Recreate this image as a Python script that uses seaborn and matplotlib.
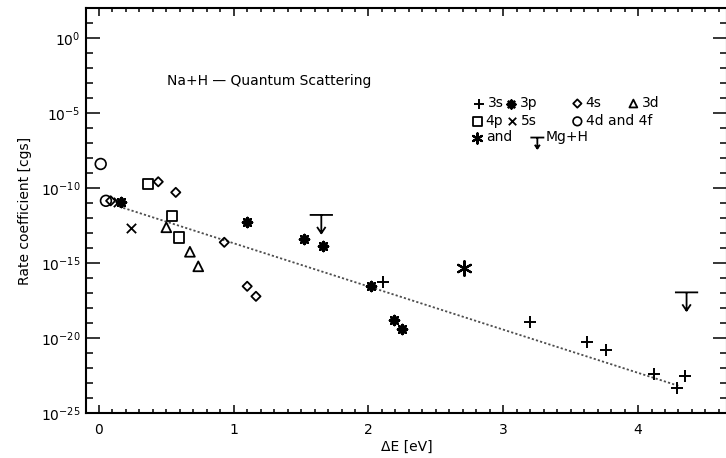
import numpy as np
import pandas as pd
import matplotlib
matplotlib.use("Agg")
import matplotlib.pyplot as plt
from matplotlib.path import Path
from matplotlib.ticker import FixedLocator, MultipleLocator, NullFormatter
import seaborn as sns

# ---------------- data ----------------
s3_x = [2.11, 3.20, 3.62, 3.76, 4.12, 4.29, 4.35]
s3_y = [5.1e-17, 1.2e-19, 5.6e-21, 1.7e-21, 3.8e-23, 4.5e-24, 3.1e-23]

p3_x = [0.16, 1.095, 1.52, 1.66, 2.02, 2.19, 2.25]
p3_y = [1.1e-11, 5.6e-13, 4.0e-14, 1.4e-14, 3.1e-17, 1.7e-19, 4.0e-20]

s4_x = [0.087, 0.44, 0.57, 0.93, 1.10, 1.165]
s4_y = [1.4e-11, 2.6e-10, 5.1e-11, 2.4e-14, 2.8e-17, 6.0e-18]

d3_x = [0.50, 0.675, 0.737]
d3_y = [2.4e-13, 5.6e-15, 6.0e-16]

p4_x = [0.366, 0.54, 0.596]
p4_y = [1.9e-10, 1.4e-12, 5.1e-14]

s5_x = [0.14, 0.235]
s5_y = [1.2e-11, 2.0e-13]

df4_x = [0.013, 0.052]
df4_y = [4.0e-9, 1.4e-11]

mgh_x = [2.71]
mgh_y = [4.7e-16]

mgh_lim_x = [1.65, 4.36]
mgh_lim_y = [1.6e-12, 1.1e-17]

fit_x = [0.15, 4.30]
fit_y = [5.8e-12, 6.5e-24]

title_text = "Na+H \u2014 Quantum Scattering"
xlabel = "\u0394E [eV]"
ylabel = "Rate coefficient [cgs]"
ytick_vals = [1e0, 1e-5, 1e-10, 1e-15, 1e-20, 1e-25]
ytick_labels = ["$10^{0}$", "$10^{-5}$", "$10^{-10}$", "$10^{-15}$", "$10^{-20}$", "$10^{-25}$"]
xtick_vals = [0, 1, 2, 3, 4]
xtick_labels = ["0", "1", "2", "3", "4"]

# ---------------- style ----------------
sns.set_style("ticks")
plt.rcParams["font.family"] = ["DejaVu Sans"]
plt.rcParams["mathtext.default"] = "regular"
plt.rcParams["text.color"] = "black"
plt.rcParams["axes.labelcolor"] = "black"

W, H = 726, 458
fig = plt.figure(figsize=(W / 100, H / 100), dpi=100)
ax_l, ax_r, ax_t, ax_b = 86, 727, 8, 413
ax = fig.add_axes([ax_l / W, (H - ax_b) / H, (ax_r - ax_l) / W, (ax_b - ax_t) / H])
ax.set_yscale("log")

K = "black"

# fit line
sns.lineplot(x=fit_x, y=fit_y, color="0.3", linewidth=1.3,
             linestyle=(0, (1.2, 1.2)), ax=ax, zorder=1)

# upper-limit marker (bar with downward arrow)
arrow_verts = [(-0.6, 0.0), (0.6, 0.0), (0.0, 0.0), (0.0, -0.95),
               (-0.22, -0.62), (0.0, -0.95), (0.22, -0.62)]
arrow_codes = [Path.MOVETO, Path.LINETO, Path.MOVETO, Path.LINETO,
               Path.MOVETO, Path.LINETO, Path.LINETO]
arrow_marker = Path(arrow_verts, arrow_codes)

handles = {}

def draw(name, x, y, marker, s, lw, open_marker):
    if open_marker:
        sns.scatterplot(x=x, y=y, marker=marker, s=s, facecolor="none",
                        edgecolor=K, linewidth=lw, ax=ax, zorder=3)
    else:
        sns.scatterplot(x=x, y=y, marker=marker, s=s, color=K,
                        linewidth=lw, ax=ax, zorder=3)
    handles[name] = ax.collections[-1]

draw("3s", s3_x, s3_y, "+", 70, 1.4, False)
draw("3p", p3_x, p3_y, (8, 2, 0), 42, 1.9, False)
draw("4s", s4_x, s4_y, "D", 22, 1.3, True)
draw("3d", d3_x, d3_y, "^", 50, 1.3, True)
draw("4p", p4_x, p4_y, "s", 55, 1.3, True)
draw("5s", s5_x, s5_y, "x", 45, 1.3, False)
draw("4d", df4_x, df4_y, "o", 60, 1.2, True)
draw("mgh", mgh_x, mgh_y, (6, 2, 0), 110, 1.6, False)
draw("lim", mgh_lim_x, mgh_lim_y, arrow_marker, 700, 1.3, True)

# axes ranges and ticks
ax.set_xlim(-0.096, 4.66)
ax.set_ylim(1e-25, 1e2)
ax.xaxis.set_major_locator(FixedLocator(xtick_vals))
ax.set_xticklabels(xtick_labels)
ax.xaxis.set_minor_locator(MultipleLocator(0.1))
ax.yaxis.set_major_locator(FixedLocator(ytick_vals))
ax.set_yticklabels(ytick_labels)
ax.yaxis.set_minor_locator(FixedLocator(10.0 ** np.arange(-25, 3)))
ax.yaxis.set_minor_formatter(NullFormatter())

ax.tick_params(axis="both", which="both", direction="in", top=True, right=True,
               color=K, width=1.1, labelsize=10, labelcolor=K)
ax.tick_params(axis="x", which="major", length=6, pad=7)
ax.tick_params(axis="x", which="minor", length=3)
ax.tick_params(axis="y", which="major", length=10, pad=4)
ax.tick_params(axis="y", which="minor", length=5)
for sp in ax.spines.values():
    sp.set_visible(True)
    sp.set_linewidth(1.5)
    sp.set_color(K)

ax.set_xlabel(xlabel, fontsize=10, labelpad=2)
ax.set_ylabel(ylabel, fontsize=10, labelpad=6)

# title text inside plot
ax.text(0.126, 0.82, title_text, transform=ax.transAxes, fontsize=10,
        ha="left", va="center", color=K)

# legend: one small legend per entry so that positions match
def key(name, label, xf, yf, scale):
    leg = ax.legend([handles[name]], [label], loc="center left", bbox_to_anchor=(xf, yf),
                    frameon=False, handlelength=1.0, handletextpad=0.1, borderpad=0,
                    borderaxespad=0, scatterpoints=1, markerscale=scale, fontsize=10,
                    labelcolor=K)
    ax.add_artist(leg)

key("3s", "3s", 0.6028, 0.765, 0.9)
key("3p", "3p", 0.6527, 0.765, 0.85)
key("4s", "4s", 0.7557, 0.765, 0.9)
key("3d", "3d", 0.8431, 0.765, 0.8)
key("4p", "4p", 0.5997, 0.721, 0.85)
key("5s", "5s", 0.6543, 0.721, 0.8)
key("4d", "4d and 4f", 0.7557, 0.721, 0.8)
key("mgh", "and", 0.5997, 0.681, 0.7)
key("lim", "Mg+H", 0.6933, 0.681, 0.6)
ax.legend_ = None

fig.savefig("out.png", dpi=100)
